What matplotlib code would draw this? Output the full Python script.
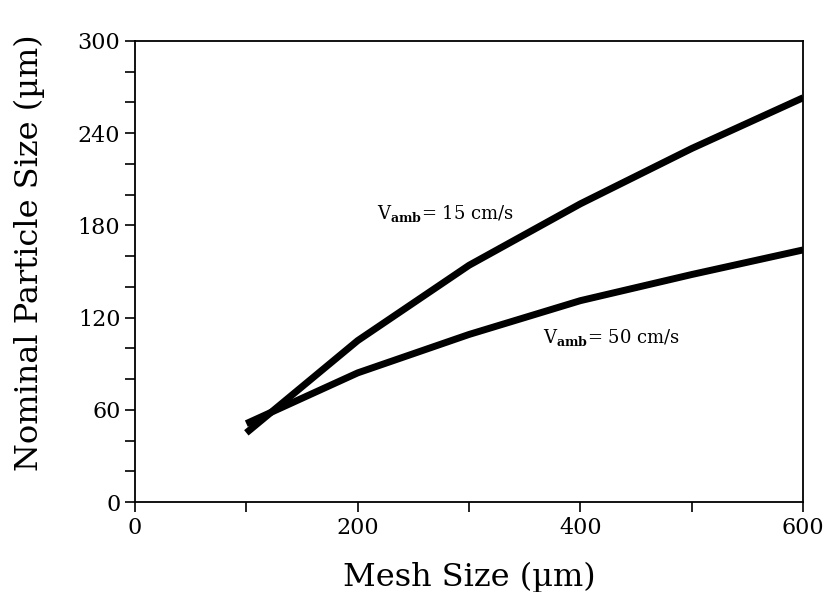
import matplotlib
matplotlib.use("Agg")
import matplotlib.pyplot as plt
from matplotlib.ticker import MultipleLocator

# Mesh size (um) and nominal particle size (um) for two ambient velocities
mesh_size = [100, 200, 300, 400, 500, 600]
size_v15 = [45, 105, 154, 194, 230, 263]
size_v50 = [51, 84, 109, 131, 148, 164]

plt.rcParams['font.family'] = ['DejaVu Serif']
plt.rcParams['mathtext.fontset'] = 'dejavuserif'

fig = plt.figure(figsize=(8.28, 5.92), dpi=100)
ax = fig.add_axes([0.163, 0.152, 0.807, 0.779])

ax.plot(mesh_size, size_v15, color='black', lw=5, solid_capstyle='butt')
ax.plot(mesh_size, size_v50, color='black', lw=5, solid_capstyle='butt')

ax.set_xlim(0, 600)
ax.set_ylim(0, 300)
ax.xaxis.set_major_locator(MultipleLocator(200))
ax.xaxis.set_minor_locator(MultipleLocator(100))
ax.yaxis.set_major_locator(MultipleLocator(60))
ax.yaxis.set_minor_locator(MultipleLocator(20))
ax.tick_params(which='both', direction='out', length=7, width=1.2,
               top=False, right=False, labelsize=16)
for s in ax.spines.values():
    s.set_linewidth(1.3)

ax.set_xlabel('Mesh Size (\u00b5m)', fontsize=23)
ax.set_ylabel('Nominal Particle Size (\u00b5m)', fontsize=23)
ax.xaxis.set_label_coords(0.5, -0.13)
ax.yaxis.set_label_coords(-0.135, 0.54)

ax.text(217, 188, r'V$_{\mathbf{amb}}$= 15 cm/s', fontsize=13, va='center')
ax.text(366, 107, r'V$_{\mathbf{amb}}$= 50 cm/s', fontsize=13, va='center')

fig.savefig('out.png', dpi=100)
